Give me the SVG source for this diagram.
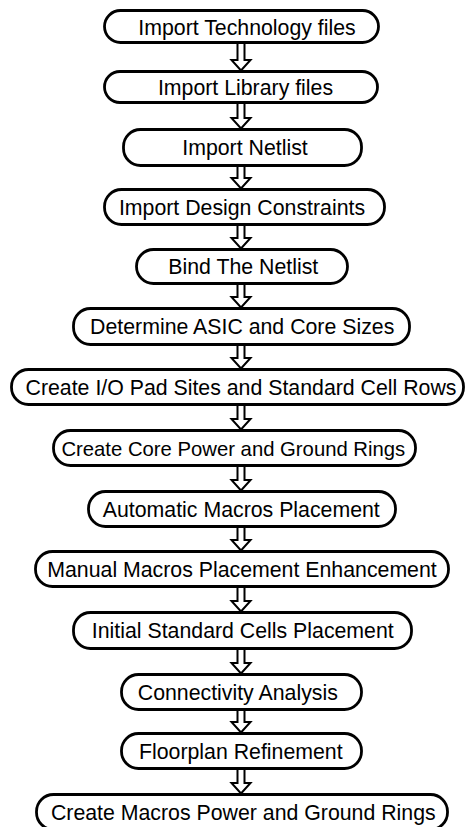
<svg xmlns="http://www.w3.org/2000/svg" width="466" height="827" viewBox="0 0 466 827">
  <style>
    .step rect { fill: #ffffff; stroke: #000000; stroke-width: 2.8; }
    .step text { font-family: "Liberation Sans", Arial, sans-serif; font-size: 21.3px; fill: #000000; text-anchor: middle; }
    #connectors path { fill: #ffffff; stroke: #000000; stroke-width: 2; stroke-linejoin: miter; }
  </style>
  <rect width="466" height="827" fill="#ffffff"/>

  <!-- hollow block arrows between consecutive steps -->
  <g id="connectors">
    <path d="M237.5,42 V60 H231.5 L241,70.5 L250.5,60 H244.5 V42"/>
    <path d="M237.5,102 V118 H231.5 L241,128.5 L250.5,118 H244.5 V102"/>
    <path d="M237.5,166 V178 H231.5 L241,188.5 L250.5,178 H244.5 V166"/>
    <path d="M237.5,225 V238 H231.5 L241,248.5 L250.5,238 H244.5 V225"/>
    <path d="M237.5,284 V297 H231.5 L241,307.5 L250.5,297 H244.5 V284"/>
    <path d="M237.5,345 V358 H231.5 L241,368.5 L250.5,358 H244.5 V345"/>
    <path d="M237.5,405 V419 H231.5 L241,429.5 L250.5,419 H244.5 V405"/>
    <path d="M237.5,466 V480 H231.5 L241,490.5 L250.5,480 H244.5 V466"/>
    <path d="M237.5,527 V540 H231.5 L241,550.5 L250.5,540 H244.5 V527"/>
    <path d="M237.5,587 V601 H231.5 L241,611.5 L250.5,601 H244.5 V587"/>
    <path d="M237.5,649 V663 H231.5 L241,673.5 L250.5,663 H244.5 V649"/>
    <path d="M237.5,710 V722 H231.5 L241,732.5 L250.5,722 H244.5 V710"/>
    <path d="M237.5,769 V783 H231.5 L241,793.5 L250.5,783 H244.5 V769"/>
  </g>

  <g id="step-01" class="step">
    <rect x="104.5" y="10.5" width="274" height="32" rx="16"/>
    <text x="247" y="35">Import Technology files</text>
  </g>
  <g id="step-02" class="step">
    <rect x="104.5" y="71.5" width="273" height="31" rx="15.5"/>
    <text x="245.5" y="95">Import Library files</text>
  </g>
  <g id="step-03" class="step">
    <rect x="123.5" y="129.5" width="238" height="36" rx="17"/>
    <text x="245" y="155">Import Netlist</text>
  </g>
  <g id="step-04" class="step">
    <rect x="104.5" y="189.5" width="280" height="35" rx="17"/>
    <text x="242" y="215">Import Design Constraints</text>
  </g>
  <g id="step-05" class="step">
    <rect x="136.5" y="249.5" width="211" height="34" rx="17"/>
    <text x="243.3" y="274">Bind The Netlist</text>
  </g>
  <g id="step-06" class="step">
    <rect x="73.5" y="308.5" width="336" height="36" rx="17"/>
    <text x="242.2" y="334">Determine ASIC and Core Sizes</text>
  </g>
  <g id="step-07" class="step">
    <rect x="11.5" y="369.5" width="452" height="35" rx="17"/>
    <text x="241" y="395">Create I/O Pad Sites and Standard Cell Rows</text>
  </g>
  <g id="step-08" class="step">
    <rect x="53.5" y="430.5" width="362" height="35" rx="17"/>
    <text x="233.3" y="456" style="font-size:20.3px">Create Core Power and Ground Rings</text>
  </g>
  <g id="step-09" class="step">
    <rect x="88.5" y="491.5" width="307" height="35" rx="17"/>
    <text x="241.3" y="517">Automatic Macros Placement</text>
  </g>
  <g id="step-10" class="step">
    <rect x="35.5" y="551.5" width="413" height="35" rx="17"/>
    <text x="242" y="577">Manual Macros Placement Enhancement</text>
  </g>
  <g id="step-11" class="step">
    <rect x="73.5" y="612.5" width="338" height="36" rx="17"/>
    <text x="242.8" y="638">Initial Standard Cells Placement</text>
  </g>
  <g id="step-12" class="step">
    <rect x="121.5" y="674.5" width="240" height="35" rx="17"/>
    <text x="237.8" y="700">Connectivity Analysis</text>
  </g>
  <g id="step-13" class="step">
    <rect x="121.5" y="733.5" width="240" height="35" rx="17"/>
    <text x="240.8" y="759">Floorplan Refinement</text>
  </g>
  <g id="step-14" class="step">
    <rect x="36.5" y="794.5" width="411" height="35" rx="17"/>
    <text x="243.3" y="820">Create Macros Power and Ground Rings</text>
  </g>
</svg>
